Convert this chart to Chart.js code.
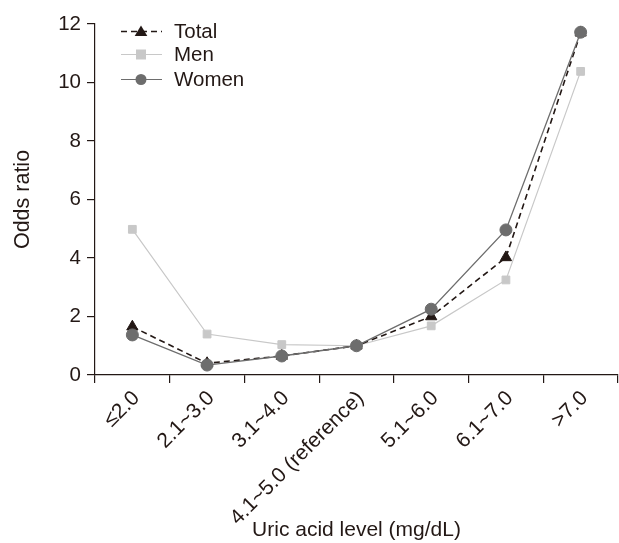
<!DOCTYPE html>
<html>
<head>
<meta charset="utf-8">
<script src="https://cdn.jsdelivr.net/npm/chart.js@4"></script>
<style>
html,body{margin:0;padding:0;background:#fff;}
canvas{display:block;}
</style>
</head>
<body>
<canvas id="c" width="619" height="543"></canvas>
<script>
const categories = ["\u22642.0", "2.1~3.0", "3.1~4.0", "4.1~5.0 (reference)", "5.1~6.0", "6.1~7.0", ">7.0"];
const totalValues = [1.65, 0.40, 0.65, 1.0, 2.0, 4.02, 11.7];
const menValues   = [4.98, 1.40, 1.04, 1.0, 1.68, 3.25, 10.38];
const womenValues = [1.37, 0.34, 0.65, 1.0, 2.25, 4.96, 11.72];
const yTicks = [0, 2, 4, 6, 8, 10, 12];
const seriesNames = ["Total", "Men", "Women"];

const FONT = "'Liberation Sans', Arial, Helvetica, sans-serif";
const INK = "#231815";
const C_TOTAL = "#231815";
const C_MEN = "#c8c8c8";
const C_WOMEN = "#6d6d6d";

const legendPlugin = {
  id: 'customLegend',
  afterDraw(chart) {
    const ctx = chart.ctx;
    const items = [
      {name: seriesNames[0], color: C_TOTAL, dash: [6, 4], width: 1.5, style: 'triangle', r: 6},
      {name: seriesNames[1], color: C_MEN, dash: [], width: 1, style: 'rect', r: 5},
      {name: seriesNames[2], color: C_WOMEN, dash: [], width: 1.2, style: 'circle', r: 5.5}
    ];
    const x0 = 121, x1 = 162, xm = 141, xt = 174;
    const ys = [31.5, 54.5, 79.5];
    ctx.save();
    items.forEach((it, i) => {
      const y = ys[i];
      ctx.strokeStyle = it.color;
      ctx.lineWidth = it.width;
      ctx.setLineDash(it.dash);
      ctx.beginPath();
      ctx.moveTo(x0, y);
      ctx.lineTo(x1, y);
      ctx.stroke();
      ctx.setLineDash([]);
      ctx.fillStyle = it.color;
      ctx.beginPath();
      if (it.style === 'triangle') {
        const r = it.r;
        ctx.moveTo(xm, y - r);
        ctx.lineTo(xm + r * 1.05, y + r * 0.75);
        ctx.lineTo(xm - r * 1.05, y + r * 0.75);
        ctx.closePath();
      } else if (it.style === 'rect') {
        ctx.rect(xm - it.r, y - it.r, it.r * 2, it.r * 2);
      } else {
        ctx.arc(xm, y, it.r, 0, Math.PI * 2);
      }
      ctx.fill();
      ctx.fillStyle = INK;
      ctx.font = "20.5px " + FONT;
      ctx.textBaseline = 'middle';
      ctx.textAlign = 'left';
      ctx.fillText(it.name, xt, y + 1);
    });
    ctx.restore();
  }
};

new Chart(document.getElementById('c'), {
  type: 'line',
  data: {
    labels: categories,
    datasets: [
      {
        label: seriesNames[0], data: totalValues, order: 1,
        borderColor: C_TOTAL, backgroundColor: C_TOTAL, borderWidth: 1.6,
        borderDash: [6, 4], pointStyle: 'triangle', pointRadius: 6.5,
        pointBorderWidth: 1, tension: 0
      },
      {
        label: seriesNames[1], data: menValues, order: 2,
        borderColor: C_MEN, backgroundColor: C_MEN, borderWidth: 1.2,
        pointStyle: 'rect', pointRadius: 5.5, pointBorderWidth: 1, tension: 0
      },
      {
        label: seriesNames[2], data: womenValues, order: 0,
        borderColor: C_WOMEN, backgroundColor: C_WOMEN, borderWidth: 1.3,
        pointStyle: 'circle', pointRadius: 6, pointBorderWidth: 1, tension: 0
      }
    ]
  },
  options: {
    responsive: false,
    animation: false,
    devicePixelRatio: 1,
    layout: {autoPadding: false, padding: {top: 24, right: 1, bottom: 0, left: 0}},
    plugins: {legend: {display: false}, tooltip: {enabled: false}},
    scales: {
      x: {
        type: 'category',
        offset: true,
        grid: {offset: true, drawOnChartArea: false, drawTicks: true, tickLength: 8, color: INK, lineWidth: 1.2},
        border: {display: true, color: INK, width: 1.2},
        ticks: {
          autoSkip: false, maxRotation: 45, minRotation: 45, padding: 3, labelOffset: 4,
          color: INK, font: {family: FONT, size: 21}
        },
        title: {display: true, text: 'Uric acid level (mg/dL)', color: INK,
          font: {family: FONT, size: 21}, padding: {top: 0, bottom: 0}},
        afterFit(scale) { scale.height = 168; scale.paddingLeft = 0; scale.paddingRight = 0; }
      },
      y: {
        min: 0, max: 12,
        afterBuildTicks(scale) { scale.ticks = yTicks.map(v => ({value: v})); },
        grid: {drawOnChartArea: false, drawTicks: true, tickLength: 8, color: INK, lineWidth: 1.2},
        border: {display: true, color: INK, width: 1.2},
        ticks: {padding: 6, color: INK, font: {family: FONT, size: 20.5}},
        title: {display: true, text: 'Odds ratio', color: INK,
          font: {family: FONT, size: 21.5}, padding: {top: 10, bottom: 0}},
        afterFit(scale) { scale.width = 95; scale.paddingTop = 0; scale.paddingBottom = 0; }
      }
    }
  },
  plugins: [legendPlugin]
});
</script>
</body>
</html>
